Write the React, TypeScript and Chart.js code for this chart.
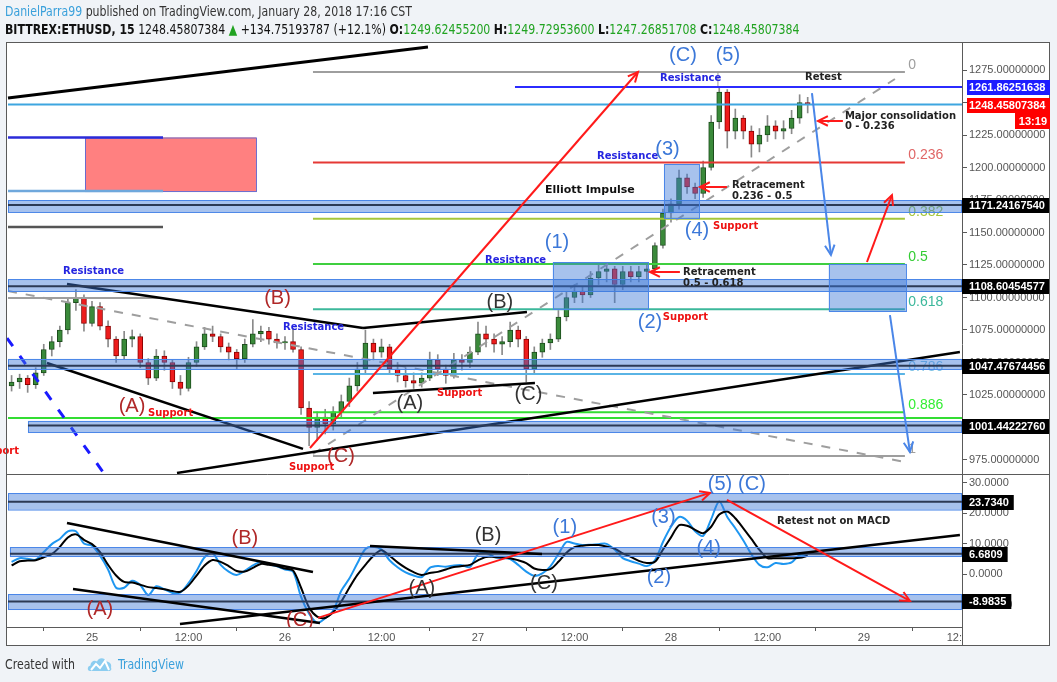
import React, { useEffect, useRef } from "react";
import { Chart, registerables } from "chart.js";

Chart.register(...registerables);

// ---- time axis (hours since Jan 24 00:00 CST) ----
const FIRST_HOUR = 14; // first hourly candle: Jan 24 14:00
const X_MIN = 13.555;
const X_MAX = 132.19;
const PRICE_MIN = 964.2;
const PRICE_MAX = 1295.8;
const MACD_MIN = -17.38;
const MACD_MAX = 32.8;

const xTickHours = [24, 36, 48, 60, 72, 84, 96, 108, 120, 132];
const xTickText = ["25", "12:00", "26", "12:00", "27", "12:00", "28", "12:00", "29", "12:00"];

// ---- ETH/USD hourly candles ----
const opens = [
  1032, 1035, 1038, 1033, 1042, 1060, 1066, 1075, 1096, 1100,
  1080, 1093, 1078, 1068, 1055, 1068, 1070, 1050, 1038, 1055,
  1050, 1035, 1030, 1050, 1062, 1072, 1070, 1062, 1058, 1053,
  1064, 1072, 1074, 1068, 1065, 1066, 1060, 1015, 1000, 1008,
  1003, 1012, 1020, 1032, 1045, 1065, 1058, 1062, 1045, 1040,
  1036, 1034, 1038, 1052, 1045, 1040, 1052, 1050, 1058, 1072,
  1068, 1064, 1066, 1075, 1068, 1045, 1058, 1065, 1068, 1085,
  1100, 1105, 1102, 1115, 1120, 1122, 1110, 1120, 1116, 1120,
  1122, 1140, 1165, 1172, 1192, 1185, 1180, 1200, 1235, 1258,
  1228, 1238, 1228, 1218, 1225, 1232, 1228, 1230, 1238, 1250,
];
const highs = [
  1040, 1041, 1040, 1046, 1064, 1070, 1078, 1100, 1106, 1102,
  1097, 1096, 1082, 1070, 1074, 1075, 1072, 1053, 1060, 1059,
  1052, 1040, 1054, 1066, 1077, 1078, 1072, 1065, 1060, 1068,
  1083, 1078, 1077, 1072, 1070, 1076, 1062, 1020, 1012, 1014,
  1016, 1025, 1038, 1050, 1075, 1068, 1068, 1064, 1050, 1046,
  1042, 1042, 1058, 1056, 1048, 1057, 1056, 1062, 1081, 1078,
  1072, 1070, 1081, 1078, 1070, 1062, 1068, 1072, 1090, 1104,
  1110, 1108, 1120, 1126, 1127, 1124, 1124, 1124, 1124, 1126,
  1142, 1168, 1176, 1198, 1195, 1188, 1205, 1240, 1262, 1260,
  1245, 1240, 1232, 1230, 1240, 1236, 1236, 1244, 1256, 1254,
];
const lows = [
  1028, 1030, 1027, 1030, 1040, 1055, 1062, 1072, 1090, 1074,
  1078, 1075, 1062, 1050, 1053, 1062, 1046, 1033, 1036, 1044,
  1030, 1025, 1028, 1047, 1060, 1066, 1058, 1052, 1045, 1050,
  1062, 1066, 1064, 1061, 1060, 1058, 1010, 986, 990, 995,
  998, 1008, 1016, 1028, 1042, 1052, 1054, 1042, 1035, 1031,
  1030, 1031, 1036, 1040, 1034, 1038, 1044, 1046, 1056, 1062,
  1058, 1056, 1062, 1062, 1035, 1042, 1054, 1060, 1066, 1082,
  1096, 1096, 1100, 1110, 1112, 1096, 1106, 1112, 1112, 1114,
  1120, 1138, 1158, 1168, 1180, 1176, 1177, 1198, 1230, 1215,
  1222, 1222, 1208, 1212, 1220, 1222, 1222, 1226, 1234, 1242,
];
const closes = [
  1035, 1038, 1033, 1042, 1060, 1066, 1075, 1096, 1100, 1080,
  1093, 1078, 1068, 1055, 1068, 1070, 1050, 1038, 1055, 1050,
  1035, 1030, 1050, 1062, 1072, 1070, 1062, 1058, 1053, 1064,
  1072, 1074, 1068, 1065, 1066, 1060, 1015, 1000, 1008, 1003,
  1012, 1020, 1032, 1045, 1065, 1058, 1062, 1045, 1040, 1036,
  1034, 1038, 1052, 1045, 1040, 1052, 1050, 1058, 1072, 1068,
  1064, 1066, 1075, 1068, 1045, 1058, 1065, 1068, 1085, 1100,
  1105, 1102, 1115, 1120, 1122, 1110, 1120, 1116, 1120, 1122,
  1140, 1165, 1172, 1192, 1185, 1180, 1200, 1235, 1258, 1228,
  1238, 1228, 1218, 1225, 1232, 1228, 1230, 1238, 1250, 1248.45807384,
];

// ---- MACD panel ----
const macdLine = [
  4.0, 5.2, 5.0, 4.7, 7.2, 9.8, 11.5, 14.0, 14.0, 10.0,
  9.3, 6.0, 1.5, -4.5, -4.5, -2.2, -3.6, -6.9, -4.0, -5.0,
  -6.2, -6.0, -3.0, 1.0, 5.5, 6.8, 3.0, 0.8, -0.3, 1.0,
  2.8, 3.9, 3.3, 2.5, 1.5, 0.8, -7.5, -13.0, -16.0, -14.5,
  -12.0, -5.5, -1.5, 3.5, 8.2, 8.9, 8.0, 4.5, 2.2, 0.5,
  -0.5, -1.0, 2.0, 2.6, 2.4, 2.8, 2.9, 2.3, 6.5, 7.0,
  5.6, 5.2, 4.9, 3.0, 0.8, -0.6, 0.2, 2.5, 6.5, 10.5,
  10.0, 9.5, 9.6, 9.8, 9.9, 8.0, 5.2, 4.2, 3.4, 2.6,
  4.5, 10.5, 15.5, 18.7, 17.5, 14.0, 12.5, 18.0, 23.8, 18.7,
  15.0, 11.0, 6.5, 3.0, 2.2, 3.6, 3.3, 3.8, 6.2, 6.0,
];
const signalLine = [
  2.8, 4.2, 4.4, 4.5, 5.5, 6.5, 8.9, 12.0, 13.0, 11.2,
  9.8, 7.2, 3.0, -0.5, -2.6, -2.8, -3.5, -4.3, -4.6, -5.0,
  -5.6, -5.8, -3.8, -0.5, 2.8, 4.6, 4.0, 2.6, 1.0, 0.8,
  2.0, 3.3, 3.0, 2.6, 1.8, 1.2, -4.5, -11.0, -14.0, -14.4,
  -12.5, -9.0, -4.5, -0.3, 3.0, 6.0, 7.8, 6.0, 3.8, 2.0,
  0.6, -0.3, 0.3, 0.7, 1.5, 2.3, 2.6, 3.0, 4.5, 5.6,
  5.6, 5.4, 5.2, 4.5, 3.6, 1.8, 1.3, 1.6, 4.0, 7.0,
  8.8, 9.3, 9.5, 9.5, 9.0, 8.3, 6.8, 5.6, 4.3, 3.6,
  4.0, 8.0, 12.0, 16.0, 15.8, 14.5, 13.4, 15.5, 19.5, 20.5,
  18.3, 15.0, 11.5, 7.9, 5.2, 5.2, 5.2, 5.2, 5.3, 6.0,
];

// ---- Fibonacci retracement levels (price) ----
const fibRatios = ["0", "0.236", "0.382", "0.5", "0.618", "0.786", "0.886", "1"];
const fibPrices = [1273.5, 1203.8, 1160.6, 1125.7, 1090.9, 1041.2, 1011.7, 978.0];
const fibColors = ["#9e9e9e", "#e53935", "#a4c639", "#3fcf3f", "#3cb89b", "#5ab4e5", "#33dd33", "#9e9e9e"];
const fibLabelColors = ["#9e9e9e", "#e06666", "#a4c639", "#33cc33", "#3cb89b", "#7ec3e6", "#33ee33", "#9e9e9e"];

// ---- price-axis highlighted values ----
const keyLevels = [1171.2416754, 1108.60454577, 1047.47674456, 1001.4422276];
const keyLevelText = ["1171.24167540", "1108.60454577", "1047.47674456", "1001.44222760"];
const macdLevels = [23.734, 6.6809, -8.9835];
const macdLevelText = ["23.7340", "6.6809", "-8.9835"];
const highPrice = 1261.86251638;
const lastPrice = 1248.45807384;

// ---- drawings (hour, value) ----
const BLUE = "#3c78d8";
const DRED = "#b02828";
const DARK = "#333333";
const RES = "#2424e0";
const SUP = "#ee1111";
const WAVE = '20px "Liberation Sans", Arial, sans-serif';
const B10 = 'bold 10px "DejaVu Sans", Verdana, sans-serif';
const B11 = 'bold 11px "DejaVu Sans", Verdana, sans-serif';

const mainLines = [
  { p: [13.555, 1253.5, 65.78, 1292.7], c: "#000", w: 3 },
  { p: [101.84, 1273.5, 101.84, 1261.9], c: "#999", w: 1 },
  { p: [X_MIN, lastPrice, X_MAX, lastPrice], c: "#3ea6e0", w: 2 },
  { p: [76.6, highPrice, X_MAX, highPrice], c: "#2b2bff", w: 2 },
  { p: [X_MIN, 1007.3, X_MAX, 1007.3], c: "#33dd33", w: 2 },
  { p: [X_MIN, 1223.1, 32.83, 1223.1], c: "#2b2bd9", w: 2.5 },
  { p: [X_MIN, 1181.9, 32.83, 1181.9], c: "#6fa8dc", w: 2.5 },
  { p: [X_MIN, 1154.2, 32.83, 1154.2], c: "#555", w: 2.5 },
  { p: [X_MIN, 1099.6, 32.83, 1099.6], c: "#9e9e9e", w: 2 },
  { p: [13.555, 1105.0, 125.09, 973.5], c: "#9e9e9e", w: 2, d: [9, 9] },
  { p: [51.48, 979.6, 123.85, 1268.1], c: "#9e9e9e", w: 2, d: [9, 9] },
  { p: [13.43, 1068.8, 25.62, 963.5], c: "#1a1aff", w: 3, d: [10, 12] },
  { p: [20.89, 1110.4, 57.7, 1076.5], c: "#000", w: 2.5 },
  { p: [57.7, 1076.5, 78.09, 1088.8], c: "#000", w: 2.5 },
  { p: [18.4, 1049.6, 50.24, 983.5], c: "#000", w: 2.5 },
  { p: [34.57, 965.0, 131.93, 1058.1], c: "#000", w: 2.5 },
  { p: [58.94, 1026.5, 79.08, 1034.2], c: "#000", w: 2.5 },
];
const mainArrows = [
  { p: [51.11, 984.2, 91.89, 1273.5], c: "#ff1a1a", w: 2 },
  { p: [120.37, 1127.3, 123.48, 1178.8], c: "#ff1a1a", w: 2 },
  { p: [97.11, 1119.6, 93.39, 1119.6], c: "#ff1a1a", w: 2 },
  { p: [102.96, 1185.0, 99.6, 1185.0], c: "#ff1a1a", w: 2 },
  { p: [117.38, 1235.8, 114.28, 1235.8], c: "#ff1a1a", w: 2 },
  { p: [113.53, 1257.3, 115.89, 1132.7], c: "#4a86e8", w: 2 },
  { p: [123.23, 1086.5, 125.71, 981.2], c: "#4a86e8", w: 2 },
];
const mainBands = [
  { h1: X_MIN, top: 1175.0, bot: 1165.8, mid: keyLevels[0] },
  { h1: X_MIN, top: 1114.2, bot: 1105.0, mid: keyLevels[1] },
  { h1: X_MIN, top: 1052.7, bot: 1045.0, mid: keyLevels[2] },
  { h1: 16.04, top: 1005.0, bot: 996.5, mid: keyLevels[3] },
];
const mainBoxes = [
  [81.32, 1127.3, 93.14, 1091.2],
  [95.13, 1202.7, 99.48, 1161.2],
  [115.64, 1125.8, 125.22, 1089.6],
];
const mainTexts = [
  { t: "(C)", h: 97.49, v: 1286.5, c: BLUE, f: WAVE },
  { t: "(5)", h: 103.08, v: 1286.5, c: BLUE, f: WAVE },
  { t: "Resistance", h: 94.64, v: 1268.8, c: RES, f: B10, a: "left" },
  { t: "Retest", h: 112.66, v: 1269.6, c: "#222", f: B10, a: "left" },
  { t: "Major consolidation", h: 117.63, v: 1239.6, c: "#222", f: B10, a: "left" },
  { t: "0 - 0.236", h: 117.63, v: 1231.9, c: "#222", f: B10, a: "left" },
  { t: "Resistance", h: 86.8, v: 1208.8, c: RES, f: B10, a: "left" },
  { t: "(3)", h: 95.56, v: 1213.5, c: BLUE, f: WAVE },
  { t: "Elliott Impulse", h: 80.33, v: 1182.7, c: "#111", f: B11, a: "left" },
  { t: "Retracement", h: 103.58, v: 1186.5, c: "#222", f: B10, a: "left" },
  { t: "0.236 - 0.5", h: 103.58, v: 1178.1, c: "#222", f: B10, a: "left" },
  { t: "(4)", h: 99.23, v: 1151.2, c: BLUE, f: WAVE },
  { t: "Support", h: 101.22, v: 1155.0, c: SUP, f: B10, a: "left" },
  { t: "(1)", h: 81.82, v: 1142.7, c: BLUE, f: WAVE },
  { t: "Resistance", h: 72.87, v: 1128.8, c: RES, f: B10, a: "left" },
  { t: "Retracement", h: 97.49, v: 1119.6, c: "#222", f: B10, a: "left" },
  { t: "0.5 - 0.618", h: 97.49, v: 1111.2, c: "#222", f: B10, a: "left" },
  { t: "(2)", h: 93.39, v: 1080.4, c: BLUE, f: WAVE },
  { t: "Support", h: 94.99, v: 1085.0, c: SUP, f: B10, a: "left" },
  { t: "Resistance", h: 20.39, v: 1120.4, c: RES, f: B10, a: "left" },
  { t: "(B)", h: 47.07, v: 1099.6, c: DRED, f: WAVE },
  { t: "Resistance", h: 47.75, v: 1077.3, c: RES, f: B10, a: "left" },
  { t: "(B)", h: 74.73, v: 1095.8, c: DARK, f: WAVE },
  { t: "(A)", h: 28.97, v: 1015.8, c: DRED, f: WAVE },
  { t: "Support", h: 30.96, v: 1011.2, c: SUP, f: B10, a: "left" },
  { t: "(A)", h: 63.54, v: 1018.8, c: DARK, f: WAVE },
  { t: "Support", h: 66.9, v: 1026.5, c: SUP, f: B10, a: "left" },
  { t: "(C)", h: 78.27, v: 1025.0, c: DARK, f: WAVE },
  { t: "(C)", h: 54.96, v: 977.3, c: DRED, f: WAVE },
  { t: "Support", h: 48.5, v: 969.6, c: SUP, f: B10, a: "left" },
  { t: "Support", h: 14.92, v: 981.9, c: SUP, f: B10, a: "right" },
];

const macdLines = [
  { p: [20.89, 16.7, 51.48, 0.66], c: "#000", w: 2.5 },
  { p: [21.64, -4.9, 52.35, -16.1], c: "#000", w: 2.5 },
  { p: [34.94, -16.4, 131.93, 12.8], c: "#000", w: 2.5 },
  { p: [58.57, 9.2, 79.96, 6.6], c: "#000", w: 2.5 },
];
const macdArrows = [
  { p: [52.1, -14.4, 100.85, 26.6], c: "#ff1a1a", w: 2 },
  { p: [102.96, 24.3, 125.71, -8.85], c: "#ff1a1a", w: 2 },
];
const macdBands = [
  { h1: X_MIN, top: 26.56, bot: 21.15, mid: macdLevels[0] },
  { h1: 13.8, top: 8.85, bot: 5.9, mid: macdLevels[1] },
  { h1: X_MIN, top: -6.56, bot: -11.48, mid: macdLevels[2] },
];
const macdTexts = [
  { t: "(5)", h: 102.09, v: 29.5, c: BLUE, f: WAVE },
  { t: "(C)", h: 106.07, v: 29.5, c: BLUE, f: WAVE },
  { t: "Retest not on MACD", h: 109.18, v: 17.4, c: "#222", f: B10, a: "left" },
  { t: "(3)", h: 95.06, v: 18.7, c: BLUE, f: WAVE },
  { t: "(1)", h: 82.8, v: 15.4, c: BLUE, f: WAVE },
  { t: "(4)", h: 100.68, v: 8.5, c: BLUE, f: WAVE },
  { t: "(2)", h: 94.5, v: -1.0, c: BLUE, f: WAVE },
  { t: "(B)", h: 73.24, v: 12.5, c: DARK, f: WAVE },
  { t: "(C)", h: 80.2, v: -3.0, c: DARK, f: WAVE },
  { t: "(A)", h: 65.03, v: -4.6, c: DARK, f: WAVE },
  { t: "(B)", h: 43.02, v: 11.8, c: DRED, f: WAVE },
  { t: "(A)", h: 24.99, v: -11.5, c: DRED, f: WAVE },
  { t: "(C)", h: 49.86, v: -15.4, c: DRED, f: WAVE },
];

const AXIS_FONT = '"Liberation Sans", Arial, sans-serif';

function drawSeg(c, x1, y1, x2, y2, color, w, dash?) {
  c.save();
  c.strokeStyle = color;
  c.lineWidth = w;
  c.setLineDash(dash || []);
  c.beginPath();
  c.moveTo(x1, y1);
  c.lineTo(x2, y2);
  c.stroke();
  c.restore();
}
function drawArrow(c, x1, y1, x2, y2, color, w) {
  drawSeg(c, x1, y1, x2, y2, color, w);
  const a = Math.atan2(y2 - y1, x2 - x1);
  const len = 11;
  c.save();
  c.strokeStyle = color;
  c.lineWidth = w;
  c.beginPath();
  c.moveTo(x2 - len * Math.cos(a - 0.45), y2 - len * Math.sin(a - 0.45));
  c.lineTo(x2, y2);
  c.lineTo(x2 - len * Math.cos(a + 0.45), y2 - len * Math.sin(a + 0.45));
  c.stroke();
  c.restore();
}
function drawText(c, s, x, y, color, font, align?) {
  c.save();
  c.font = font;
  c.fillStyle = color;
  c.textAlign = align || "center";
  c.textBaseline = "middle";
  c.fillText(s, x, y);
  c.restore();
}
function drawBand(c, x1, x2, yt, yb, ym) {
  c.save();
  c.fillStyle = "rgba(60,120,216,0.45)";
  c.fillRect(x1, yt, x2 - x1, yb - yt);
  c.strokeStyle = "#4a86e8";
  c.lineWidth = 1;
  c.strokeRect(x1 + 0.5, yt + 0.5, x2 - x1 - 1, yb - yt);
  c.restore();
  drawSeg(c, x1, ym, x2, ym, "#2c3a55", 2);
}

const tvPlugin = {
  id: "tvDrawings",
  beforeDraw(chart) {
    const c = chart.ctx;
    c.save();
    c.fillStyle = "#ffffff";
    c.fillRect(7, 43, 1043, 603);
    c.restore();
  },
  afterDatasetsDraw(chart) {
    const c = chart.ctx;
    const xs = chart.scales.x;
    const ys = chart.scales.y;
    const ym = chart.scales.y2;
    const X = (h) => xs.getPixelForValue(h);

    // ---- main panel ----
    c.save();
    c.beginPath();
    c.rect(0, ys.top, xs.right, ys.bottom - ys.top);
    c.clip();
    const Y = (v) => ys.getPixelForValue(v);
    fibPrices.forEach((p, i) => {
      drawSeg(c, X(51.48), Y(p), X(125.09), Y(p), fibColors[i], 2);
      drawText(c, fibRatios[i], X(125.5), Y(p) - 7, fibLabelColors[i], '14px "Liberation Sans", Arial, sans-serif', "left");
    });
    c.save();
    c.fillStyle = "#ff8080";
    c.fillRect(X(23.13), Y(1223.1), X(44.39) - X(23.13), Y(1181.9) - Y(1223.1));
    c.strokeStyle = "#6a6acd";
    c.lineWidth = 1;
    c.strokeRect(X(23.13) + 0.5, Y(1223.1) + 0.5, X(44.39) - X(23.13), Y(1181.9) - Y(1223.1));
    c.restore();
    mainLines.forEach((l) => drawSeg(c, X(l.p[0]), Y(l.p[1]), X(l.p[2]), Y(l.p[3]), l.c, l.w, l.d));
    mainBands.forEach((b) => drawBand(c, X(b.h1), X(X_MAX), Y(b.top), Y(b.bot), Y(b.mid)));
    mainBoxes.forEach((b) => {
      c.save();
      c.fillStyle = "rgba(60,120,216,0.45)";
      c.fillRect(X(b[0]), Y(b[1]), X(b[2]) - X(b[0]), Y(b[3]) - Y(b[1]));
      c.strokeStyle = "#4a86e8";
      c.lineWidth = 1;
      c.strokeRect(X(b[0]) + 0.5, Y(b[1]) + 0.5, X(b[2]) - X(b[0]), Y(b[3]) - Y(b[1]));
      c.restore();
    });
    mainArrows.forEach((l) => drawArrow(c, X(l.p[0]), Y(l.p[1]), X(l.p[2]), Y(l.p[3]), l.c, l.w));
    mainTexts.forEach((t) => drawText(c, t.t, X(t.h), Y(t.v), t.c, t.f, t.a));
    c.restore();

    // ---- MACD panel ----
    c.save();
    c.beginPath();
    c.rect(xs.left, ym.top, xs.right - xs.left, ym.bottom - ym.top);
    c.clip();
    const M = (v) => ym.getPixelForValue(v);
    macdBands.forEach((b) => drawBand(c, X(b.h1), X(X_MAX), M(b.top), M(b.bot), M(b.mid)));
    macdLines.forEach((l) => drawSeg(c, X(l.p[0]), M(l.p[1]), X(l.p[2]), M(l.p[3]), l.c, l.w));
    macdArrows.forEach((l) => drawArrow(c, X(l.p[0]), M(l.p[1]), X(l.p[2]), M(l.p[3]), l.c, l.w));
    macdTexts.forEach((t) => drawText(c, t.t, X(t.h), M(t.v), t.c, t.f, t.a));
    c.restore();
  },
  afterDraw(chart) {
    const c = chart.ctx;
    const ys = chart.scales.y;
    const ym = chart.scales.y2;
    const right = chart.chartArea.right;
    c.save();
    c.fillStyle = "#ffffff";
    c.fillRect(right + 1, chart.chartArea.bottom + 1, 1049 - right - 1, 18);
    c.strokeStyle = "#5a5a5a";
    c.lineWidth = 1;
    c.strokeRect(6.5, 42.5, 1043, 603);
    drawSeg(c, 7, Math.round(ys.bottom) + 0.5, 1050, Math.round(ys.bottom) + 0.5, "#5a5a5a", 1);
    drawSeg(c, Math.round(right) + 0.5, 43, Math.round(right) + 0.5, 646, "#5a5a5a", 1);
    drawSeg(c, 7, Math.round(chart.chartArea.bottom) + 0.5, right + 1, Math.round(chart.chartArea.bottom) + 0.5, "#5a5a5a", 1);

    const lab = (y, text, bg, x0, x1) => {
      c.fillStyle = bg;
      c.fillRect(x0, Math.round(y) - 7, x1 - x0, 15);
      drawText(c, text, 969, Math.round(y) + 0.5, "#ffffff", 'bold 11px "Liberation Sans", Arial, sans-serif', "left");
    };
    keyLevels.forEach((v, i) => lab(ys.getPixelForValue(v), keyLevelText[i], "#000000", right, 1049));
    lab(ys.getPixelForValue(highPrice), "1261.86251638", "#1c1cff", right + 5, 1050);
    lab(ys.getPixelForValue(lastPrice), "1248.45807384", "#ff0000", right + 5, 1050);
    const yl = Math.round(ys.getPixelForValue(lastPrice));
    c.fillStyle = "#ff0000";
    c.fillRect(1015, yl + 8, 35, 16);
    drawText(c, "13:19", 1047, yl + 16.5, "#ffffff", 'bold 11px "Liberation Sans", Arial, sans-serif', "right");
    c.font = 'bold 11px "Liberation Sans", Arial, sans-serif';
    macdLevels.forEach((v, i) => {
      const w = c.measureText(macdLevelText[i]).width;
      lab(ym.getPixelForValue(v), macdLevelText[i], "#000000", right, 969 + w + 5);
    });
    c.restore();
  },
};

export default function App() {
  const ref = useRef<HTMLCanvasElement>(null);

  useEffect(() => {
    const hours = closes.map((_, i) => FIRST_HOUR + i);
    const wickData = hours.map((h, i) => ({ x: h, y: [lows[i], highs[i]] }));
    const bodyData = hours.map((h, i) => ({ x: h, y: [opens[i], closes[i]] }));
    const up = closes.map((c, i) => c >= opens[i]);
    const macdData = hours.map((h, i) => ({ x: h, y: macdLine[i] }));
    const sigData = hours.map((h, i) => ({ x: h, y: signalLine[i] }));

    const chart = new Chart(ref.current as HTMLCanvasElement, {
      type: "bar",
      data: {
        datasets: [
          {
            type: "bar",
            label: "wick",
            data: wickData,
            yAxisID: "y",
            barThickness: 1,
            backgroundColor: "#8a8a8a",
            grouped: false,
            order: 3,
          },
          {
            type: "bar",
            label: "candle",
            data: bodyData,
            yAxisID: "y",
            barThickness: 5,
            backgroundColor: up.map((u) => (u ? "#3a8a3a" : "#ee1c1c")),
            borderColor: up.map((u) => (u ? "#1d4d1d" : "#8b0000")),
            borderWidth: 1,
            borderSkipped: false,
            grouped: false,
            order: 2,
          },
          {
            type: "line",
            label: "MACD",
            data: macdData,
            yAxisID: "y2",
            borderColor: "#1e96f0",
            borderWidth: 2,
            pointRadius: 0,
            tension: 0.3,
            order: 1,
          },
          {
            type: "line",
            label: "Signal",
            data: sigData,
            yAxisID: "y2",
            borderColor: "#000000",
            borderWidth: 2,
            pointRadius: 0,
            tension: 0.3,
            order: 0,
          },
        ],
      },
      options: {
        responsive: false,
        animation: false,
        devicePixelRatio: 1,
        events: [],
        layout: { padding: { left: 8, top: 43, right: 0, bottom: 34 } },
        plugins: { legend: { display: false }, tooltip: { enabled: false } },
        scales: {
          x: {
            type: "linear",
            min: X_MIN,
            max: X_MAX,
            offset: false,
            border: { display: false },
            grid: { drawOnChartArea: false, drawTicks: true, tickLength: 4, color: "#5a5a5a" },
            ticks: {
              stepSize: 12,
              includeBounds: false,
              autoSkip: false,
              maxRotation: 0,
              padding: 0,
              color: "#555555",
              font: { family: AXIS_FONT, size: 11 },
              callback: (v) => {
                const k = xTickHours.indexOf(Number(v));
                return k >= 0 ? xTickText[k] : "";
              },
            },
            afterFit: (s) => {
              s.height = 21;
            },
          },
          y: {
            type: "linear",
            position: "right",
            stack: "panes",
            stackWeight: 431,
            min: PRICE_MIN,
            max: PRICE_MAX,
            border: { display: false },
            grid: { drawOnChartArea: false, drawTicks: true, tickLength: 5, color: "#5a5a5a" },
            ticks: {
              stepSize: 25,
              includeBounds: false,
              padding: 2,
              color: "#555555",
              font: { family: AXIS_FONT, size: 11 },
              callback: (v) => Number(v).toFixed(8),
            },
            afterFit: (s) => {
              s.width = 95;
            },
          },
          y2: {
            type: "linear",
            position: "right",
            stack: "panes",
            stackWeight: 153,
            min: MACD_MIN,
            max: MACD_MAX,
            border: { display: false },
            grid: { drawOnChartArea: false, drawTicks: true, tickLength: 5, color: "#5a5a5a" },
            ticks: {
              stepSize: 10,
              includeBounds: false,
              padding: 2,
              color: "#555555",
              font: { family: AXIS_FONT, size: 11 },
              callback: (v) => Number(v).toFixed(4),
            },
            afterFit: (s) => {
              s.width = 95;
            },
          },
        },
      },
      plugins: [tvPlugin],
    });
    return () => chart.destroy();
  }, []);

  const headFont = '"Liberation Sans Narrow", "DejaVu Sans Condensed", "Liberation Sans", sans-serif';
  const green = "#21a321";
  const squeeze = { transform: "scaleX(0.87)", transformOrigin: "0 0" };
  return (
    <div style={{ position: "absolute", left: 0, top: 0, width: 1057, height: 682, background: "#f0f3f7", overflow: "hidden" }}>
      <canvas ref={ref} width={1057} height={682} style={{ position: "absolute", left: 0, top: 0, width: 1057, height: 682 }} />
      <div style={{ position: "absolute", left: 5, top: 2, fontFamily: headFont, fontSize: 14, lineHeight: "18px", color: "#333", whiteSpace: "nowrap", ...squeeze }}>
        <div>
          <span style={{ color: "#3aa0db" }}>DanielParra99</span> published on TradingView.com, January 28, 2018 17:16 CST
        </div>
        <div style={{ color: "#111" }}>
          <b>BITTREX:ETHUSD, 15</b> 1248.45807384 <span style={{ color: green }}>▲</span> +134.75193787 (+12.1%) <b>O:</b>
          <span style={{ color: green }}>1249.62455200</span> <b>H:</b>
          <span style={{ color: green }}>1249.72953600</span> <b>L:</b>
          <span style={{ color: green }}>1247.26851708</span> <b>C:</b>
          <span style={{ color: green }}>1248.45807384</span>
        </div>
      </div>
      <div style={{ position: "absolute", left: 5, top: 654, fontFamily: headFont, fontSize: 14, lineHeight: "20px", color: "#333", whiteSpace: "nowrap", ...squeeze }}>
        Created with
      </div>
      <svg width="26" height="18" viewBox="0 0 26 18" style={{ position: "absolute", left: 87, top: 655 }}>
        <path d="M3 16 C0 16 0 11 3.5 10.5 C3.5 6 8 4.5 10 6.5 C11.5 2 18 2 19 6.5 C22.5 6.5 25 9 24 12.5 C25 15 23.5 16 22 16 Z" fill="#8ccdf0" />
        <path d="M4 15 L9 9 L13 13 L18 6 L22 15" fill="none" stroke="#ffffff" strokeWidth="2" />
      </svg>
      <div style={{ position: "absolute", left: 118, top: 654, fontFamily: headFont, fontSize: 14, lineHeight: "20px", color: "#3aa0db", whiteSpace: "nowrap", ...squeeze }}>
        TradingView
      </div>
    </div>
  );
}
